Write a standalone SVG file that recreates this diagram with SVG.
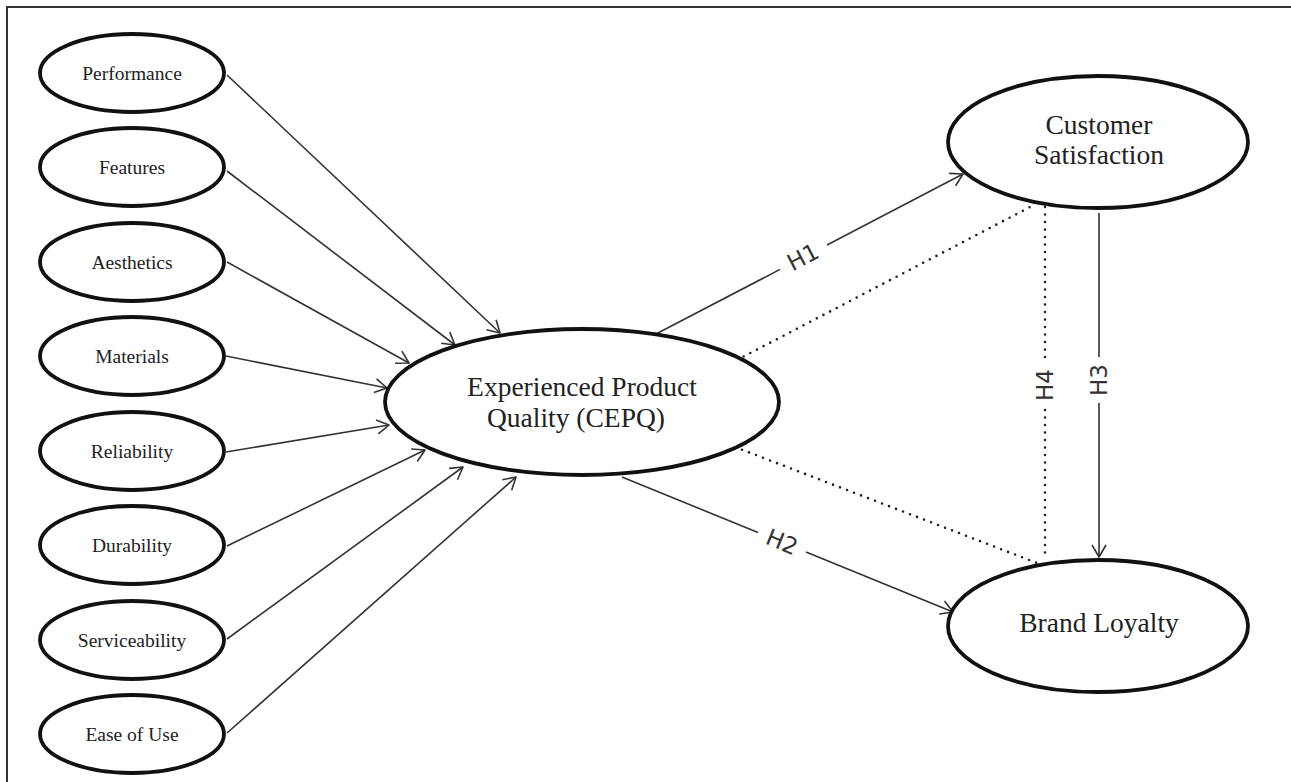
<svg xmlns="http://www.w3.org/2000/svg" width="1291" height="782" viewBox="0 0 1291 782">
  <style>
    .frame { stroke: #333; stroke-width: 2; fill: none; }
    .node ellipse { fill: #fff; stroke: #111; stroke-width: 3.8; }
    .small text { font-family: "Liberation Serif", "Times New Roman", serif; font-size: 19.5px; fill: #222; text-anchor: middle; }
    .big text { font-family: "Liberation Serif", "Times New Roman", serif; font-size: 27.5px; fill: #222; text-anchor: middle; }
    .edge { stroke: #333; stroke-width: 1.6; fill: none; }
    .dot { stroke: #222; stroke-width: 2.6; fill: none; stroke-linecap: round; stroke-dasharray: 0 7.5; }
    .hlabel { font-family: "DejaVu Sans", "Open Sans", sans-serif; font-size: 23px; fill: #333; text-anchor: middle; dominant-baseline: central; }
  </style>
  <defs>
    <marker id="arrow" viewBox="-15 -9 17 18" refX="0" refY="0" markerWidth="17" markerHeight="18" markerUnits="userSpaceOnUse" orient="auto">
      <path d="M-12,-7 L0,0 L-12,7" fill="none" stroke="#333" stroke-width="1.6" stroke-linejoin="round"/>
    </marker>
  </defs>

  <rect width="1291" height="782" fill="#fff"/>
  <!-- outer frame (top and left edges) -->
  <path class="frame" d="M7,782 V7 H1291"/>

  <!-- connectors -->
  <g id="connectors">
    <!-- quality dimensions to CEPQ -->
    <line class="edge" x1="227" y1="75" x2="500" y2="333" marker-end="url(#arrow)"/>
    <line class="edge" x1="227" y1="171" x2="455" y2="345" marker-end="url(#arrow)"/>
    <line class="edge" x1="227" y1="262" x2="409" y2="363" marker-end="url(#arrow)"/>
    <line class="edge" x1="226" y1="356" x2="387" y2="388" marker-end="url(#arrow)"/>
    <line class="edge" x1="226" y1="452" x2="389" y2="425" marker-end="url(#arrow)"/>
    <line class="edge" x1="227" y1="546" x2="425" y2="450" marker-end="url(#arrow)"/>
    <line class="edge" x1="227" y1="639" x2="463" y2="467" marker-end="url(#arrow)"/>
    <line class="edge" x1="227" y1="733" x2="516" y2="477" marker-end="url(#arrow)"/>

    <!-- H1: CEPQ to Customer Satisfaction -->
    <line class="edge" x1="656" y1="334" x2="780" y2="269.4"/>
    <line class="edge" x1="827" y1="245" x2="963" y2="174" marker-end="url(#arrow)"/>
    <text class="hlabel" transform="translate(803 257) rotate(-27.5)">H1</text>

    <!-- H2: CEPQ to Brand Loyalty -->
    <line class="edge" x1="622" y1="477" x2="758" y2="532.5"/>
    <line class="edge" x1="806" y1="552" x2="953" y2="612" marker-end="url(#arrow)"/>
    <text class="hlabel" transform="translate(782 542) rotate(22.2)">H2</text>

    <!-- H3: Customer Satisfaction to Brand Loyalty -->
    <line class="edge" x1="1099" y1="213" x2="1099" y2="357"/>
    <line class="edge" x1="1099" y1="403" x2="1099" y2="557" marker-end="url(#arrow)"/>
    <text class="hlabel" transform="translate(1099 380) rotate(-90)">H3</text>

    <!-- H4: mediation path (dotted) -->
    <line class="dot" x1="1045" y1="207" x2="1045" y2="360"/>
    <line class="dot" x1="1045" y1="410" x2="1045" y2="555"/>
    <text class="hlabel" transform="translate(1045 385) rotate(-90)">H4</text>
    <line class="dot" x1="737" y1="360" x2="1032" y2="206"/>
    <line class="dot" x1="735" y1="447" x2="1037" y2="563"/>
  </g>

  <!-- quality dimension nodes -->
  <g id="performance" class="node small">
    <ellipse cx="132" cy="73" rx="92" ry="39"/>
    <text x="132" y="80">Performance</text>
  </g>
  <g id="features" class="node small">
    <ellipse cx="132" cy="167" rx="92" ry="39"/>
    <text x="132" y="174">Features</text>
  </g>
  <g id="aesthetics" class="node small">
    <ellipse cx="132" cy="262" rx="92" ry="39"/>
    <text x="132" y="269">Aesthetics</text>
  </g>
  <g id="materials" class="node small">
    <ellipse cx="132" cy="356" rx="92" ry="39"/>
    <text x="132" y="363">Materials</text>
  </g>
  <g id="reliability" class="node small">
    <ellipse cx="132" cy="451" rx="92" ry="39"/>
    <text x="132" y="458">Reliability</text>
  </g>
  <g id="durability" class="node small">
    <ellipse cx="132" cy="545" rx="92" ry="39"/>
    <text x="132" y="552">Durability</text>
  </g>
  <g id="serviceability" class="node small">
    <ellipse cx="132" cy="640" rx="92" ry="39"/>
    <text x="132" y="647">Serviceability</text>
  </g>
  <g id="ease-of-use" class="node small">
    <ellipse cx="132" cy="734" rx="92" ry="39"/>
    <text x="132" y="741">Ease of Use</text>
  </g>

  <!-- central construct -->
  <g id="cepq" class="node big">
    <ellipse cx="582" cy="402" rx="197" ry="73"/>
    <text x="582" y="396">Experienced Product</text>
    <text x="576" y="427">Quality (CEPQ)</text>
  </g>

  <!-- outcomes -->
  <g id="customer-satisfaction" class="node big">
    <ellipse cx="1098" cy="142" rx="150" ry="66"/>
    <text x="1099" y="134">Customer</text>
    <text x="1099" y="164">Satisfaction</text>
  </g>
  <g id="brand-loyalty" class="node big">
    <ellipse cx="1098" cy="626" rx="150" ry="66"/>
    <text x="1099" y="632">Brand Loyalty</text>
  </g>
</svg>
